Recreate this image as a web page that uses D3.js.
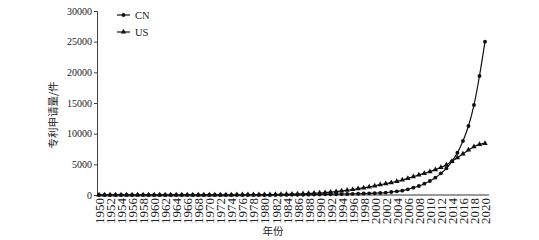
<!DOCTYPE html>
<html>
<head>
<meta charset="utf-8">
<script src="https://cdn.jsdelivr.net/npm/d3@7"></script>
<style>
  body { margin: 0; background: #fff; }
  .axis text { font-family: "Liberation Serif", "Times New Roman", serif; font-size: 10px; fill: #222; }
  .xaxis text { font-size: 13px; }
</style>
</head>
<body>
<div id="chart"></div>
<script>
// patent applications per year, CN vs US
const years = d3.range(1950, 2021);
const yTicks = [0, 5000, 10000, 15000, 20000, 25000, 30000];

const cnValues = [
  0, 0, 0, 0, 0, 0, 0, 0, 0, 0,          // 1950-1959
  0, 0, 0, 0, 0, 0, 0, 0, 0, 0,          // 1960-1969
  0, 0, 0, 0, 0, 0, 0, 0, 0, 0,          // 1970-1979
  5, 8, 10, 15, 20, 30, 40, 50, 60, 75,  // 1980-1989
  90, 105, 120, 135, 150, 170, 190, 215, 240, 265, // 1990-1999
  290, 326, 380, 489, 598, 707, 924, 1196, 1467, 1848, // 2000-2009
  2283, 2826, 3530, 4350, 5489, 6900, 8800, 11250, 14670, 19400, // 2010-2019
  25000                                  // 2020
];
const usValues = [
  10, 10, 10, 10, 10, 10, 10, 10, 10, 10, // 1950-1959
  15, 15, 15, 15, 15, 20, 20, 20, 20, 25, // 1960-1969
  25, 25, 30, 30, 30, 35, 35, 40, 40, 45, // 1970-1979
  60, 70, 80, 100, 120, 145, 170, 205, 250, 290, // 1980-1989
  330, 390, 470, 560, 660, 770, 890, 1020, 1160, 1320, // 1990-1999
  1500, 1685, 1848, 2011, 2228, 2446, 2717, 2989, 3261, 3533, // 2000-2009
  3804, 4130, 4511, 4891, 5489, 6087, 6685, 7337, 7880, 8261, // 2010-2019
  8424                                   // 2020
];
const seriesNames = ["CN", "US"];

const width = 539, height = 240;
const margin = { top: 11, right: 54, bottom: 45, left: 97 };

const svg = d3.select("#chart").append("svg")
  .attr("width", width)
  .attr("height", height);

const x = d3.scaleLinear()
  .domain([1950, 2020])
  .range([margin.left + 2, width - margin.right]);
const y = d3.scaleLinear()
  .domain([0, 30000])
  .range([height - margin.bottom, margin.top]);

// x axis: gray base line, rotated year labels every 2 years
const xAxisG = svg.append("g")
  .attr("class", "axis xaxis")
  .attr("transform", `translate(0,${y(0)})`)
  .call(d3.axisBottom(x)
    .tickValues(years.filter(d => d % 2 === 0))
    .tickFormat(d3.format("d"))
    .tickSize(0)
    .tickSizeOuter(0));
xAxisG.select(".domain").remove();
xAxisG.append("line")
  .attr("x1", margin.left).attr("x2", x(2020) + 4)
  .attr("y1", 0).attr("y2", 0)
  .attr("stroke", "#999").attr("stroke-width", 2);
xAxisG.selectAll(".tick text")
  .attr("transform", "rotate(-90)")
  .attr("x", -3)
  .attr("y", 0)
  .attr("dy", "0.35em")
  .style("text-anchor", "end");

// y axis
const yAxisG = svg.append("g")
  .attr("class", "axis")
  .attr("transform", `translate(${margin.left},0)`)
  .call(d3.axisLeft(y)
    .tickValues(yTicks)
    .tickFormat(d3.format("d"))
    .tickSize(3).tickSizeOuter(3).tickPadding(2));
yAxisG.select(".domain").attr("stroke", "#444");
yAxisG.selectAll(".tick line").attr("stroke", "#444");

// axis titles
svg.append("text")
  .attr("transform", `translate(57,${(y(0) + y(30000)) / 2 + 12}) rotate(-90)`)
  .attr("text-anchor", "middle")
  .style("font-family", "'Noto Sans CJK SC', sans-serif")
  .style("font-size", "10.5px")
  .attr("fill", "#222")
  .text("专利申请量/件");

svg.append("text")
  .attr("x", 273)
  .attr("y", 235)
  .attr("text-anchor", "middle")
  .style("font-family", "'Noto Sans CJK SC', sans-serif")
  .style("font-size", "10.5px")
  .attr("fill", "#222")
  .text("年份");

const line = d3.line()
  .x((d, i) => x(years[i]))
  .y(d => y(d))
  .curve(d3.curveMonotoneX);

const circleSym = d3.symbol().type(d3.symbolCircle).size(12);
const triSym = d3.symbol().type(d3.symbolTriangle).size(13);

function drawSeries(values, sym) {
  svg.append("path")
    .datum(values)
    .attr("fill", "none")
    .attr("stroke", "#111")
    .attr("stroke-width", 1.2)
    .attr("d", line);
  svg.append("g").selectAll("path")
    .data(values)
    .enter().append("path")
    .attr("transform", (d, i) => `translate(${x(years[i])},${y(d)})`)
    .attr("d", sym)
    .attr("fill", "#111");
}

drawSeries(usValues, triSym);
drawSeries(cnValues, circleSym);

// legend
const legend = svg.selectAll(".legend")
  .data(seriesNames)
  .enter().append("g")
  .attr("class", "legend")
  .attr("transform", (d, i) => `translate(117,${15 + i * 17})`);
legend.append("line")
  .attr("x1", 0).attr("x2", 13)
  .attr("stroke", "#111").attr("stroke-width", 1.2);
legend.append("path")
  .attr("transform", "translate(6.5,0)")
  .attr("d", (d, i) => i === 0 ? circleSym() : triSym())
  .attr("fill", "#111");
legend.append("text")
  .attr("x", 18)
  .attr("dy", "0.35em")
  .style("font-family", "'Liberation Serif', serif")
  .style("font-size", "10.5px")
  .attr("fill", "#222")
  .text(d => d);
</script>
</body>
</html>
